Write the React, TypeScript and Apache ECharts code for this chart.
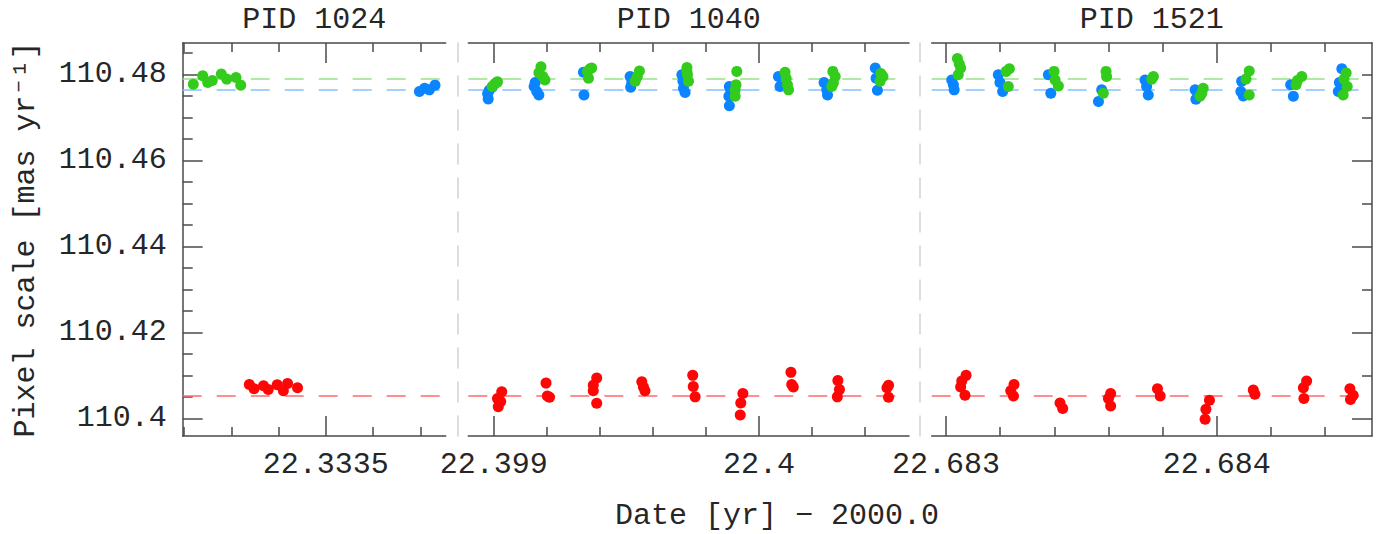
import React, { useEffect, useRef } from 'react';
import * as echarts from 'echarts';

// ---------- data ----------
const panelTitles = ['PID 1024', 'PID 1040', 'PID 1521'];

const yMajorTicks = [110.4, 110.42, 110.44, 110.46, 110.48];
const yMinorTicks = [110.405, 110.41, 110.415, 110.425, 110.43, 110.435, 110.445, 110.45, 110.455, 110.465, 110.47, 110.475, 110.485];
const yRightMinorTicks = [110.41, 110.43, 110.45, 110.47];

const xMajorTicks = [[22.3335], [22.399, 22.4], [22.683, 22.684]];
const xMinorTicks = [
  [22.3332, 22.3333, 22.3334, 22.3336, 22.3337],
  [22.3992, 22.3994, 22.3996, 22.3998, 22.4002, 22.4004],
  [22.6832, 22.6834, 22.6836, 22.6838, 22.6842, 22.6844],
];

const refGreen = 110.4789;
const refBlue = 110.4764;
const refRed = 110.4052;

const p1024Green = [
  [22.3332194, 110.4777], [22.3332393, 110.4797], [22.3332499, 110.4781], [22.3332596, 110.4786],
  [22.3332787, 110.4801], [22.3332901, 110.4789], [22.3333098, 110.4793], [22.3333198, 110.4775],
];
const p1024Red = [
  [22.333338, 110.4079], [22.333348, 110.4069], [22.333368, 110.4076], [22.333378, 110.4067],
  [22.333397, 110.4078], [22.33341, 110.4064], [22.333419, 110.4081], [22.33344, 110.4071],
];
const p1024Blue = [
  [22.333698, 110.476], [22.333709, 110.4768], [22.333719, 110.4764], [22.333731, 110.4775],
];

const p1040Blue = [
  [22.398979, 110.4743], [22.398977, 110.4755], [22.398983, 110.4763], [22.398994, 110.477],
  [22.399156, 110.4781], [22.399152, 110.4772], [22.399162, 110.476], [22.39917, 110.4752],
  [22.399338, 110.4805], [22.39934, 110.4752],
  [22.399514, 110.4795], [22.39952, 110.478], [22.399516, 110.477],
  [22.399709, 110.4799], [22.399713, 110.4784], [22.399715, 110.4768], [22.399721, 110.4758],
  [22.399888, 110.4772], [22.399886, 110.4749], [22.399888, 110.4727], [22.399893, 110.4764],
  [22.400073, 110.4795], [22.400079, 110.4772],
  [22.400245, 110.4781], [22.400255, 110.4764], [22.400258, 110.4752],
  [22.400438, 110.4815], [22.400441, 110.4791], [22.400446, 110.4763],
];
const p1040Green = [
  [22.398994, 110.4772], [22.399004, 110.4778], [22.399011, 110.4781], [22.399014, 110.4783],
  [22.399178, 110.4818], [22.39917, 110.4804], [22.399185, 110.4795], [22.399193, 110.4787],
  [22.399353, 110.4807], [22.399363, 110.4813], [22.399369, 110.4815], [22.399357, 110.4791],
  [22.399549, 110.4808], [22.399541, 110.4795], [22.399533, 110.4784],
  [22.399728, 110.4816], [22.399728, 110.4807], [22.39973, 110.4799], [22.399734, 110.4784],
  [22.399916, 110.4807], [22.399913, 110.4776], [22.39991, 110.4764], [22.39991, 110.4749],
  [22.400098, 110.4805], [22.400102, 110.4791], [22.400107, 110.4776], [22.400111, 110.4764],
  [22.400278, 110.4807], [22.400287, 110.4795], [22.40028, 110.478], [22.400274, 110.4772],
  [22.400459, 110.4802], [22.400467, 110.4795], [22.400456, 110.4784],
];
const p1040Red = [
  [22.39903, 110.4062], [22.399014, 110.4046], [22.399026, 110.4039], [22.399017, 110.4027],
  [22.399197, 110.4082], [22.399202, 110.4052], [22.39921, 110.4049],
  [22.399388, 110.4094], [22.399375, 110.4077], [22.399375, 110.4064], [22.399388, 110.4035],
  [22.399558, 110.4085], [22.399564, 110.4073], [22.39957, 110.4064],
  [22.39975, 110.41], [22.399752, 110.4074], [22.399759, 110.405],
  [22.399939, 110.4058], [22.399931, 110.4036], [22.399929, 110.4008],
  [22.40012, 110.4107], [22.400123, 110.4079], [22.400129, 110.4073],
  [22.400297, 110.4088], [22.400303, 110.4067], [22.400295, 110.405],
  [22.400488, 110.4077], [22.400482, 110.4071], [22.400488, 110.4049],
];

const p1521Blue = [
  [22.683021, 110.4787], [22.683027, 110.4776], [22.68303, 110.4764],
  [22.683193, 110.4799], [22.683199, 110.4781], [22.683209, 110.476],
  [22.683378, 110.4799], [22.683387, 110.4756],
  [22.683575, 110.4764], [22.683563, 110.4737],
  [22.683735, 110.4787], [22.683747, 110.4752], [22.683741, 110.4772],
  [22.68392, 110.4764], [22.683923, 110.4742],
  [22.684092, 110.4784], [22.684089, 110.476], [22.684098, 110.475],
  [22.684273, 110.4776], [22.684283, 110.4749],
  [22.684462, 110.4813], [22.684453, 110.4781], [22.684449, 110.476],
];
const p1521Green = [
  [22.683042, 110.4837], [22.683049, 110.4824], [22.683054, 110.4815], [22.683045, 110.4799],
  [22.683222, 110.4807], [22.683234, 110.4813], [22.68323, 110.4772],
  [22.683399, 110.4807], [22.683403, 110.4787], [22.683415, 110.4773],
  [22.683591, 110.4807], [22.683593, 110.4795], [22.683581, 110.4756],
  [22.683766, 110.4795], [22.68376, 110.4789],
  [22.68395, 110.4768], [22.683945, 110.4756], [22.683938, 110.4749],
  [22.68412, 110.4808], [22.684108, 110.4789], [22.68412, 110.4752],
  [22.684314, 110.4795], [22.684298, 110.4786], [22.684293, 110.4776],
  [22.684478, 110.4803], [22.68447, 110.4789], [22.684482, 110.4772], [22.684467, 110.4752],
];
const p1521Red = [
  [22.683074, 110.41], [22.683058, 110.4087], [22.683054, 110.4073], [22.68307, 110.4054],
  [22.683251, 110.4079], [22.683239, 110.4064], [22.683249, 110.4052],
  [22.683421, 110.4036], [22.683431, 110.4023],
  [22.683608, 110.4058], [22.6836, 110.4046], [22.683608, 110.4029],
  [22.683781, 110.4069], [22.683791, 110.4052],
  [22.683973, 110.4042], [22.68396, 110.4021], [22.683957, 110.3998],
  [22.684135, 110.4066], [22.684141, 110.4056],
  [22.684332, 110.4087], [22.68432, 110.4071], [22.684322, 110.4046],
  [22.684492, 110.4069], [22.684504, 110.4054], [22.684494, 110.4044],
];

// ---------- layout / style ----------
const Y_MIN = 110.3959;
const Y_MAX = 110.4873;
const xRanges = [
  [22.333197, 22.3337536],
  [22.398904, 22.4005651],
  [22.682947, 22.6845735],
];
const grids = [
  { left: 182.7, top: 39.5, width: 263, height: 396.5 },
  { left: 468.3, top: 39.5, width: 440.7, height: 396.5 },
  { left: 931.7, top: 39.5, width: 440.3, height: 396.5 },
];

const FONT = '"Liberation Mono", "DejaVu Sans Mono", monospace';
const AXIS_COLOR = '#4a4a4a';
const TEXT_COLOR = '#262626';
const SEP_COLOR = '#d2d2d2';
const BLUE = '#0b84ff';
const GREEN = '#34cc1c';
const RED = '#ff0606';
const BLUE_LINE = '#84c2ff';
const GREEN_LINE = '#95e285';
const RED_LINE = '#ff6a6a';

const fmt = (v: number) => String(Number(v.toFixed(5)));

function buildXAxes(g: number) {
  const [min, max] = xRanges[g];
  const line = { color: AXIS_COLOR, width: 1.5 };
  const base = { type: 'value', gridIndex: g, min, max, splitLine: { show: false } };
  return [
    {
      ...base, position: 'bottom',
      axisLine: { show: true, onZero: false, lineStyle: line },
      axisTick: { show: true, inside: true, length: 20, customValues: xMajorTicks[g], lineStyle: line },
      axisLabel: {
        show: true, customValues: xMajorTicks[g], formatter: fmt, margin: 14,
        fontSize: 30, fontFamily: FONT, color: TEXT_COLOR,
      },
    },
    {
      ...base, position: 'bottom',
      axisLine: { show: false, onZero: false },
      axisTick: { show: true, inside: true, length: 9, customValues: xMinorTicks[g], lineStyle: line },
      axisLabel: { show: false },
    },
    {
      ...base, position: 'top',
      name: panelTitles[g], nameLocation: 'middle', nameGap: 8,
      nameTextStyle: { fontSize: 30, fontFamily: FONT, color: TEXT_COLOR },
      axisLine: { show: true, onZero: false, lineStyle: line },
      axisTick: { show: true, inside: true, length: 20, customValues: xMajorTicks[g], lineStyle: line },
      axisLabel: { show: false },
    },
    {
      ...base, position: 'top',
      axisLine: { show: false, onZero: false },
      axisTick: { show: true, inside: true, length: 9, customValues: xMinorTicks[g], lineStyle: line },
      axisLabel: { show: false },
    },
  ];
}

function buildYAxes() {
  const line = { color: AXIS_COLOR, width: 1.5 };
  const base = { type: 'value', min: Y_MIN, max: Y_MAX, splitLine: { show: false } };
  const sep = (g: number, offset: number) => ({
    ...base, gridIndex: g, position: 'right', offset,
    axisLine: { show: true, onZero: false, lineStyle: { color: SEP_COLOR, width: 1.5, type: [20, 14] } },
    axisTick: { show: false }, axisLabel: { show: false },
  });
  return [
    {
      ...base, gridIndex: 0, position: 'left',
      name: 'Pixel scale [mas yr⁻¹]', nameLocation: 'middle', nameGap: 142, nameRotate: 90,
      nameTextStyle: { fontSize: 30, fontFamily: FONT, color: TEXT_COLOR },
      axisLine: { show: true, onZero: false, lineStyle: line },
      axisTick: { show: true, inside: true, length: 20, customValues: yMajorTicks, lineStyle: line },
      axisLabel: {
        show: true, customValues: yMajorTicks, formatter: fmt, margin: 16,
        fontSize: 30, fontFamily: FONT, color: TEXT_COLOR,
      },
    },
    {
      ...base, gridIndex: 0, position: 'left',
      axisLine: { show: false, onZero: false },
      axisTick: { show: true, inside: true, length: 10, customValues: yMinorTicks, lineStyle: line },
      axisLabel: { show: false },
    },
    sep(0, 12),
    { ...base, gridIndex: 1, show: false },
    sep(1, 11),
    {
      ...base, gridIndex: 2, position: 'right',
      axisLine: { show: true, onZero: false, lineStyle: line },
      axisTick: { show: true, inside: true, length: 20, customValues: yMajorTicks.slice(0, 4), lineStyle: line },
      axisLabel: { show: false },
    },
    {
      ...base, gridIndex: 2, position: 'right',
      axisLine: { show: false, onZero: false },
      axisTick: { show: true, inside: true, length: 10, customValues: [...yRightMinorTicks, 110.48], lineStyle: line },
      axisLabel: { show: false },
    },
  ];
}

const yIndexForGrid = [0, 3, 5];

function scatter(g: number, data: number[][], color: string, ref: number, refColor: string) {
  return {
    type: 'scatter',
    xAxisIndex: g * 4,
    yAxisIndex: yIndexForGrid[g],
    data,
    symbol: 'circle',
    symbolSize: 11,
    itemStyle: { color, opacity: 1 },
    z: 3,
    silent: true,
    markLine: {
      silent: true,
      z: 1,
      precision: 6,
      symbol: ['none', 'none'],
      label: { show: false },
      emphasis: { disabled: true },
      lineStyle: { color: refColor, width: 1.6, type: [19, 15] },
      data: [{ yAxis: ref }],
    },
  };
}

export default function App() {
  const ref = useRef<HTMLDivElement>(null);
  useEffect(() => {
    if (!ref.current) return;
    const chart = echarts.init(ref.current, undefined, { renderer: 'svg' });
    const panels = [
      [p1024Blue, p1024Green, p1024Red],
      [p1040Blue, p1040Green, p1040Red],
      [p1521Blue, p1521Green, p1521Red],
    ];
    const series: any[] = [];
    panels.forEach(([b, gr, r], g) => {
      series.push(scatter(g, b, BLUE, refBlue, BLUE_LINE));
      series.push(scatter(g, gr, GREEN, refGreen, GREEN_LINE));
      series.push(scatter(g, r, RED, refRed, RED_LINE));
    });
    chart.setOption({
      animation: false,
      backgroundColor: '#ffffff',
      grid: grids,
      xAxis: [0, 1, 2].flatMap((g) => buildXAxes(g)),
      yAxis: buildYAxes(),
      series,
      graphic: [
        {
          type: 'text',
          x: 777,
          y: 516,
          style: {
            text: 'Date [yr] − 2000.0',
            fontSize: 30,
            fontFamily: FONT,
            fill: TEXT_COLOR,
            align: 'center',
            verticalAlign: 'middle',
          },
        },
      ],
    });
    return () => chart.dispose();
  }, []);
  return (
    <div
      ref={ref}
      style={{ position: 'fixed', left: 0, top: 0, width: 1395, height: 534, background: '#fff' }}
    />
  );
}
